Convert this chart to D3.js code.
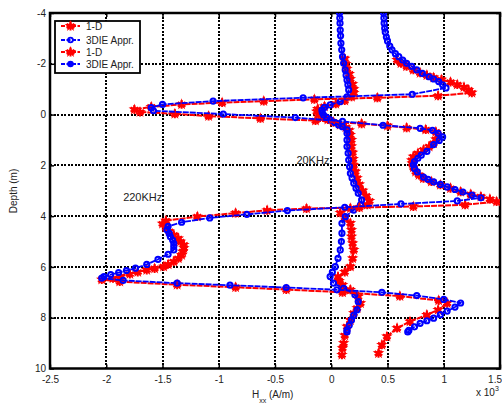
<!DOCTYPE html>
<html>
<head>
<meta charset="utf-8">
<script src="https://cdn.jsdelivr.net/npm/d3@7"></script>
<style>
body { margin: 0; background: #fff; }
text { font-family: "Liberation Sans", Arial, sans-serif; fill: #222; }
</style>
</head>
<body>
<div id="container"></div>
<script>
// values: [Hxx (x 10^3 A/m), depth (m)]
const oneD20 = [[0.12,-2.2],[0.13,-2.0],[0.14,-1.8],[0.16,-1.6],[0.17,-1.4],[0.19,-1.2],[0.2,-1.0],[0.2,-0.85],
    [0.18,-0.7],[0.12,-0.55],[0.04,-0.42],[-0.06,-0.32],[-0.12,-0.22],[-0.13,-0.12],[-0.11,0.0],[-0.07,0.1],
    [-0.03,0.2],[0.02,0.3],[0.08,0.4],[0.13,0.5],[0.16,0.62],[0.17,0.8],[0.18,1.0],[0.18,1.25],[0.19,1.5],
    [0.195,1.75],[0.2,2.0],[0.215,2.25],[0.23,2.5],[0.25,2.75],[0.28,3.0],[0.31,3.2],[0.34,3.4],[0.32,3.55],
    [0.17,3.69],[0.08,3.87],[0.12,4.05],[0.17,4.28],[0.18,4.55],[0.18,4.81],[0.19,5.07],[0.2,5.33],[0.19,5.66],
    [0.17,5.99],[0.12,6.2],[0.06,6.38],[0.07,6.55],[0.1,6.71],[0.17,6.9],[0.24,7.17],[0.26,7.43],[0.23,7.62],
    [0.2,7.82],[0.17,8.1],[0.14,8.35],[0.12,8.7],[0.11,9.0],[0.1,9.2],[0.095,9.46]];

const dieAppr20 = [[0.074,-4.0],[0.076,-3.8],[0.078,-3.6],[0.08,-3.33],[0.083,-3.1],[0.086,-2.81],[0.093,-2.55],
    [0.1,-2.28],[0.11,-2.02],[0.124,-1.76],[0.132,-1.55],[0.14,-1.36],[0.148,-1.17],[0.155,-0.97],[0.14,-0.7],
    [0.08,-0.51],[-0.01,-0.38],[-0.06,-0.28],[-0.083,-0.18],[-0.08,-0.08],[-0.068,0.02],[-0.04,0.11],[-0.009,0.21],
    [0.03,0.31],[0.065,0.41],[0.1,0.48],[0.14,0.6],[0.14,0.74],[0.14,1.0],[0.14,1.26],[0.15,1.52],[0.155,1.79],
    [0.163,2.05],[0.17,2.31],[0.185,2.5],[0.2,2.7],[0.22,2.9],[0.24,3.1],[0.27,3.36],[0.26,3.56],[0.2,3.76],
    [0.125,4.02],[0.095,4.28],[0.095,4.67],[0.09,5.0],[0.08,5.33],[0.06,5.66],[0.035,5.99],[0.01,6.2],[-0.01,6.38],
    [0.02,6.64],[0.11,6.84],[0.21,7.1],[0.24,7.37],[0.23,7.69],[0.2,7.9],[0.18,8.09],[0.16,8.3],[0.14,8.48],[0.14,8.56]];

const oneD220 = [[0.585,-2.15],[0.62,-2.02],[0.67,-1.9],[0.73,-1.76],[0.79,-1.64],[0.85,-1.55],[0.91,-1.46],
    [0.98,-1.38],[1.06,-1.28],[1.12,-1.18],[1.18,-1.08],[1.22,-0.97],[1.25,-0.86],[0.95,-0.74],[0.41,-0.66],
    [-0.15,-0.6],[-0.6,-0.53],[-0.97,-0.47],[-1.33,-0.4],[-1.6,-0.3],[-1.75,-0.2],[-1.7,-0.1],[-1.39,-0.03],
    [-1.09,0.06],[-0.63,0.15],[-0.14,0.24],[0.27,0.36],[0.5,0.44],[0.67,0.52],[0.84,0.59],[0.93,0.68],[0.95,0.82],
    [0.93,0.98],[0.91,1.13],[0.87,1.26],[0.82,1.39],[0.77,1.53],[0.73,1.66],[0.715,1.8],[0.72,1.92],[0.73,2.08],
    [0.75,2.25],[0.78,2.38],[0.82,2.51],[0.89,2.64],[0.97,2.77],[1.06,2.9],[1.15,3.04],[1.24,3.14],[1.33,3.23],
    [1.41,3.33],[1.47,3.43],[1.19,3.55],[0.73,3.62],[0.25,3.66],[-0.22,3.7],[-0.57,3.77],[-0.85,3.88],[-1.19,4.02],
    [-1.47,4.18],[-1.5,4.3],[-1.47,4.45],[-1.44,4.6],[-1.4,4.74],[-1.36,4.88],[-1.34,5.0],[-1.31,5.13],[-1.31,5.26],
    [-1.32,5.4],[-1.33,5.53],[-1.36,5.66],[-1.4,5.79],[-1.45,5.9],[-1.49,5.99],[-1.57,6.06],[-1.64,6.12],[-1.72,6.2],
    [-1.79,6.28],[-1.87,6.37],[-1.94,6.45],[-2.04,6.5],[-1.88,6.58],[-1.37,6.7],[-0.85,6.8],[-0.4,6.89],[0.1,7.0],
    [0.61,7.15],[0.955,7.32],[1.03,7.43],[0.95,7.69],[0.85,7.89],[0.7,8.15],[0.585,8.41],[0.495,8.74],[0.45,9.07],
    [0.42,9.4]];

const dieAppr220 = [[0.465,-4.0],[0.468,-3.8],[0.47,-3.6],[0.475,-3.4],[0.48,-3.25],[0.49,-3.05],[0.5,-2.9],
    [0.52,-2.7],[0.54,-2.55],[0.57,-2.4],[0.6,-2.28],[0.635,-2.15],[0.67,-2.02],[0.715,-1.9],[0.76,-1.76],
    [0.81,-1.62],[0.87,-1.49],[0.91,-1.4],[0.955,-1.3],[0.99,-1.17],[1.02,-1.05],[0.72,-0.8],[-0.25,-0.66],
    [-1.05,-0.53],[-1.5,-0.4],[-1.6,-0.27],[-1.58,-0.15],[-0.96,-0.02],[-0.32,0.12],[0.1,0.27],[0.46,0.42],
    [0.79,0.54],[0.9,0.62],[0.95,0.74],[0.99,0.88],[0.96,1.02],[0.91,1.18],[0.85,1.45],[0.8,1.6],[0.77,1.72],
    [0.74,1.85],[0.73,1.98],[0.74,2.12],[0.765,2.26],[0.82,2.46],[0.86,2.55],[0.91,2.65],[0.97,2.75],[1.03,2.85],
    [1.1,2.95],[1.17,3.05],[1.25,3.17],[1.33,3.28],[1.12,3.4],[0.62,3.52],[0.12,3.65],[-0.39,3.78],[-0.75,3.93],
    [-1.08,4.07],[-1.33,4.24],[-1.45,4.4],[-1.46,4.54],[-1.44,4.68],[-1.43,4.81],[-1.41,4.94],[-1.4,5.07],
    [-1.4,5.2],[-1.4,5.33],[-1.45,5.5],[-1.54,5.7],[-1.64,5.9],[-1.74,6.05],[-1.82,6.14],[-1.89,6.22],[-1.96,6.3],
    [-2.02,6.38],[-2.04,6.44],[-1.85,6.53],[-1.37,6.64],[-0.9,6.72],[-0.4,6.81],[0.05,6.9],[0.45,7.0],[0.76,7.13],
    [1.0,7.28],[1.15,7.42],[1.1,7.58],[1.03,7.74],[0.97,7.88],[0.91,8.02],[0.85,8.12],[0.79,8.22],[0.74,8.36],
    [0.69,8.5],[0.68,8.56]];

const xTicks = [-2.5, -2, -1.5, -1, -0.5, 0, 0.5, 1, 1.5];
const yTicks = [-4, -2, 0, 2, 4, 6, 8, 10];
const legendLabels = ["1-D", "3DIE  Appr.", "1-D", "3DIE  Appr."];
const freqLabels = ["20KHz", "220KHz"];

const margin = { top: 13, right: 2, bottom: 40.5, left: 50 },
    width = 502 - margin.left - margin.right,
    height = 409 - margin.top - margin.bottom;

const svg = d3.select("#container")
    .append("svg")
    .attr("width", width + margin.left + margin.right)
    .attr("height", height + margin.top + margin.bottom);

const g = svg.append("g")
    .attr("transform", `translate(${margin.left}, ${margin.top})`);

const x = d3.scaleLinear().domain([-2.5, 1.5]).range([0, width]);
const y = d3.scaleLinear().domain([-4, 10]).range([0, height]);

// dotted grid
g.append("g").selectAll("line")
    .data(xTicks.slice(1, -1))
    .enter().append("line")
    .attr("x1", d => Math.round(x(d))).attr("x2", d => Math.round(x(d)))
    .attr("y1", 0).attr("y2", height)
    .attr("stroke", "#000").attr("stroke-width", 2).attr("stroke-dasharray", "2,1.5")
    .attr("shape-rendering", "crispEdges");
g.append("g").selectAll("line")
    .data(yTicks.slice(1, -1))
    .enter().append("line")
    .attr("y1", d => Math.round(y(d))).attr("y2", d => Math.round(y(d)))
    .attr("x1", 0).attr("x2", width)
    .attr("stroke", "#000").attr("stroke-width", 2).attr("stroke-dasharray", "2,1.5")
    .attr("shape-rendering", "crispEdges");

// axes, ticks pointing inwards
const fmt = d => String(d);
const axB = g.append("g").attr("transform", `translate(0, ${height})`)
    .call(d3.axisBottom(x).tickValues(xTicks).tickSize(-4).tickPadding(5).tickFormat(fmt));
const axL = g.append("g")
    .call(d3.axisLeft(y).tickValues(yTicks).tickSize(-4).tickPadding(4).tickFormat(fmt));
g.append("g")
    .call(d3.axisTop(x).tickValues(xTicks).tickSize(-4).tickFormat(""));
g.append("g").attr("transform", `translate(${width}, 0)`)
    .call(d3.axisRight(y).tickValues(yTicks).tickSize(-4).tickFormat(""));
g.selectAll(".domain").remove();
g.selectAll(".tick line").attr("stroke", "#000").attr("stroke-width", 1.5);
g.selectAll(".tick text").style("font-size", "10px").attr("fill", "#222");
axB.selectAll(".tick text").attr("dy", "0.9em");
// last label sits on the right edge of the page
axB.selectAll(".tick text").filter(d => d === 1.5).attr("text-anchor", "end").attr("dx", 1.5);

g.append("rect")
    .attr("width", width).attr("height", height)
    .attr("fill", "none").attr("stroke", "#000").attr("stroke-width", 2.5);

// curves
g.append("clipPath").attr("id", "clip")
    .append("rect").attr("width", width).attr("height", height);
const plot = g.append("g").attr("clip-path", "url(#clip)");

const line = d3.line().x(d => x(d[0])).y(d => y(d[1]));
const star = d3.symbol().type(d3.symbolStar).size(42);
const asterisk = d3.symbol().type(d3.symbolAsterisk || d3.symbolCross).size(55);

function drawOneD(data) {
    plot.append("path").datum(data)
        .attr("d", line).attr("fill", "none")
        .attr("stroke", "#ff0000").attr("stroke-width", 2).attr("stroke-dasharray", "6,1");
    const m = plot.append("g").selectAll("g")
        .data(data).enter().append("g")
        .attr("transform", d => `translate(${x(d[0])}, ${y(d[1])})`);
    m.append("path").attr("d", star).attr("fill", "#ff0000");
    m.append("path").attr("d", asterisk).attr("fill", "none")
        .attr("stroke", "#ff0000").attr("stroke-width", 2);
}

function drawDie(data) {
    plot.append("path").datum(data)
        .attr("d", line).attr("fill", "none")
        .attr("stroke", "#0000ff").attr("stroke-width", 1.8).attr("stroke-dasharray", "6,1");
    plot.append("g").selectAll("circle")
        .data(data).enter().append("circle")
        .attr("cx", d => x(d[0])).attr("cy", d => y(d[1]))
        .attr("r", 2.6).attr("fill", "none")
        .attr("stroke", "#0000ff").attr("stroke-width", 2);
}

drawOneD(oneD20);
drawDie(dieAppr20);
drawOneD(oneD220);
drawDie(dieAppr220);

// frequency labels
g.append("text").attr("x", x(-0.31)).attr("y", y(1.95))
    .style("font-size", "11px").text(freqLabels[0]);
g.append("text").attr("x", x(-1.85)).attr("y", y(3.4))
    .style("font-size", "11px").text(freqLabels[1]);

// legend
const leg = svg.append("g");
leg.append("rect")
    .attr("x", 55).attr("y", 21).attr("width", 85).attr("height", 52)
    .attr("fill", "#fff").attr("stroke", "#000").attr("stroke-width", 1.8);
const legY = [26, 40, 52, 64];
legendLabels.forEach((lab, i) => {
    const col = i % 2 === 0 ? "#ff0000" : "#0000ff";
    leg.append("line")
        .attr("x1", 61).attr("x2", 80).attr("y1", legY[i]).attr("y2", legY[i])
        .attr("stroke", col).attr("stroke-width", 1.8).attr("stroke-dasharray", "4,1.5");
    if (i % 2 === 0) {
        leg.append("path").attr("d", star).attr("fill", col)
            .attr("transform", `translate(70.5, ${legY[i]})`);
        leg.append("path").attr("d", asterisk).attr("fill", "none").attr("stroke", col)
            .attr("stroke-width", 2).attr("transform", `translate(70.5, ${legY[i]})`);
    } else {
        leg.append("circle").attr("cx", 70.5).attr("cy", legY[i]).attr("r", 2.4)
            .attr("fill", i === 3 ? col : "none").attr("stroke", col).attr("stroke-width", 1.8);
    }
    leg.append("text").attr("x", 86).attr("y", legY[i] + 3.5)
        .style("font-size", "10px").text(lab);
});

// axis titles
svg.append("text")
    .attr("transform", "translate(17, 191) rotate(-90)")
    .attr("text-anchor", "middle")
    .style("font-size", "10px")
    .text("Depth (m)");

const xt = svg.append("text").attr("x", 252).attr("y", 398).style("font-size", "10px");
xt.append("tspan").text("H");
xt.append("tspan").attr("dy", 5).style("font-size", "7px").text("xx");
xt.append("tspan").attr("dy", -5).text(" (A/m)");

const ex = svg.append("text").attr("x", 476).attr("y", 396).style("font-size", "10px");
ex.append("tspan").text("x 10");
ex.append("tspan").attr("dy", -5).style("font-size", "7px").text("3");
</script>
</body>
</html>
